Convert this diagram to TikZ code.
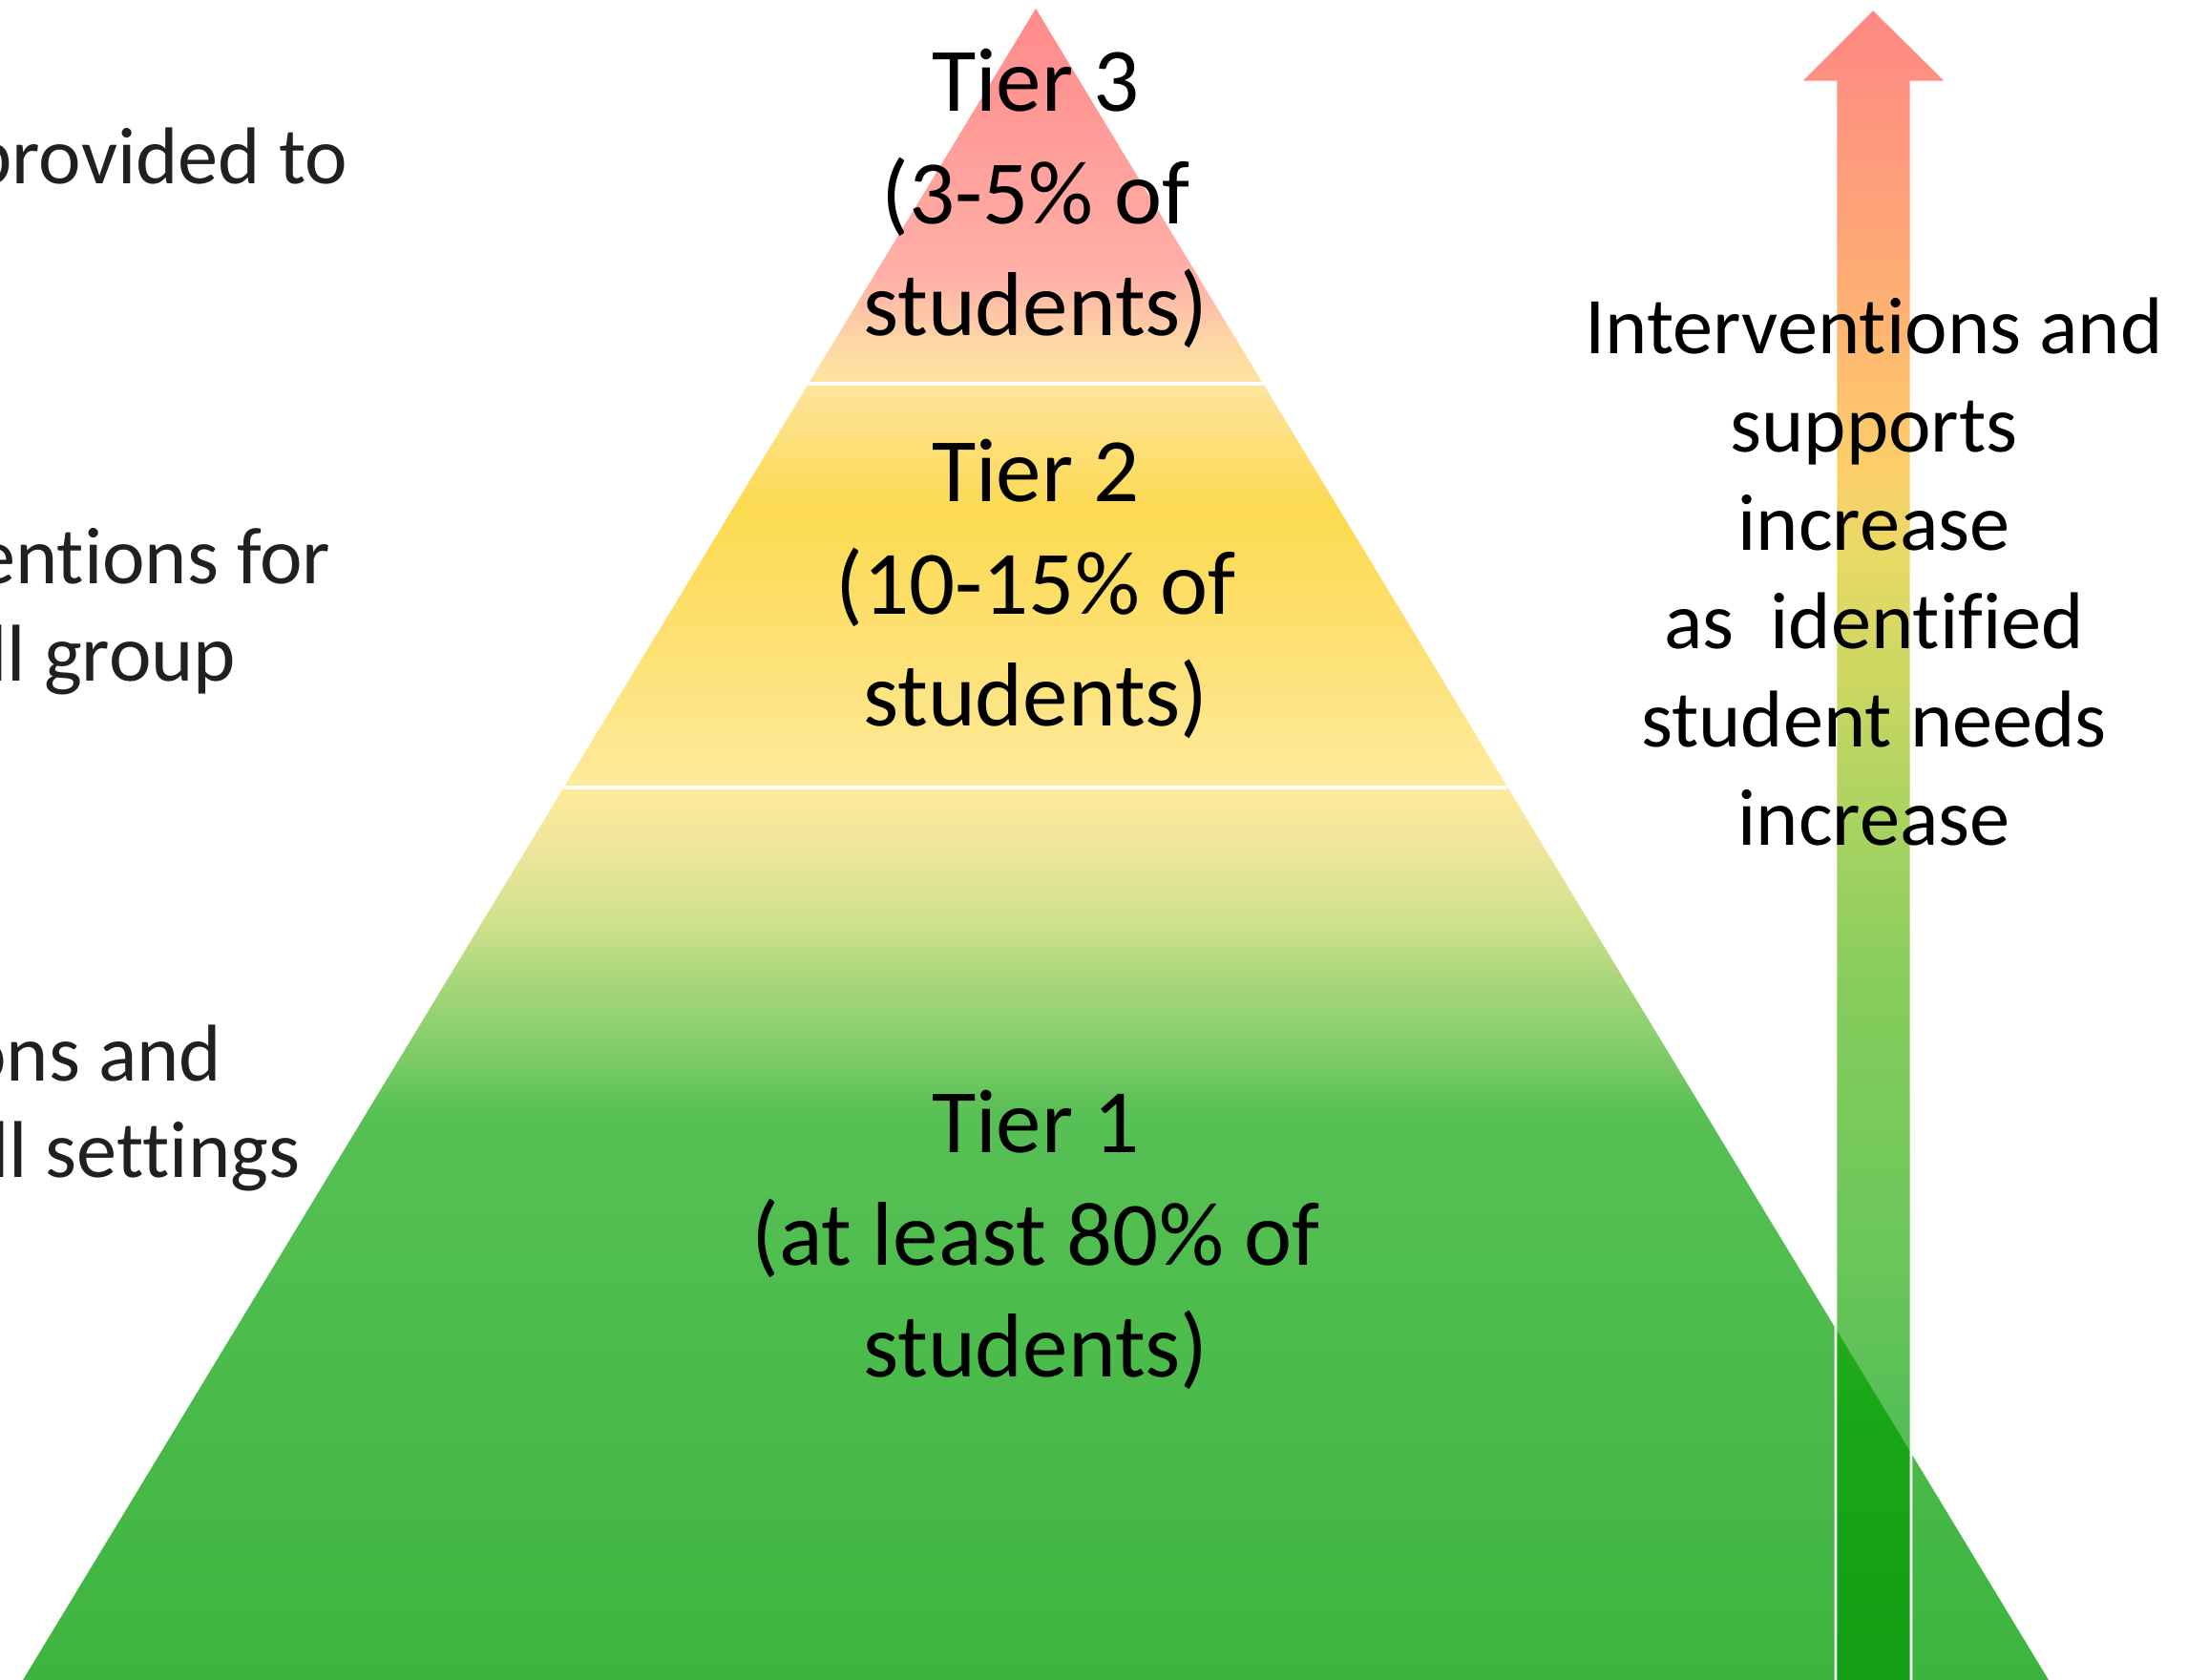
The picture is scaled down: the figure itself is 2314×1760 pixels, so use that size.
\documentclass[tikz,border=0pt]{standalone}
\usepackage{fontspec}
\setmainfont{Carlito}[Ligatures=NoCommon]
\usetikzlibrary{positioning}

\definecolor{sidegray}{HTML}{231F20}
\pgfdeclareverticalshading{pyramidshade}{100bp}{
  rgb(0bp)=(0.243,0.706,0.243);
  rgb(25bp)=(0.243,0.706,0.243);
  rgb(35.3bp)=(0.298,0.737,0.298);
  rgb(42bp)=(0.345,0.753,0.337);
  rgb(43.7bp)=(0.494,0.800,0.408);
  rgb(45.8bp)=(0.651,0.839,0.478);
  rgb(47.8bp)=(0.824,0.882,0.549);
  rgb(50bp)=(0.941,0.902,0.608);
  rgb(51.7bp)=(0.996,0.918,0.608);
  rgb(56.3bp)=(0.992,0.878,0.44);
  rgb(60bp)=(0.988,0.855,0.314);
  rgb(63.8bp)=(0.996,0.894,0.62);
  rgb(65bp)=(0.996,0.843,0.647);
  rgb(67bp)=(1,0.69,0.659);
  rgb(75bp)=(1,0.541,0.541);
  rgb(100bp)=(1,0.541,0.541)}
\pgfdeclareverticalshading{arrowshade}{100bp}{
  rgb(0bp)=(0,0.57,0);
  rgb(25bp)=(0,0.57,0);
  rgb(33.1bp)=(0,0.62,0);
  rgb(37.3bp)=(0.11,0.659,0.012);
  rgb(45.8bp)=(0.282,0.702,0.035);
  rgb(50bp)=(0.459,0.733,0.059);
  rgb(54.2bp)=(0.659,0.757,0.059);
  rgb(58.4bp)=(0.855,0.78,0.086);
  rgb(61.4bp)=(0.988,0.71,0.11);
  rgb(66.8bp)=(0.988,0.51,0.173);
  rgb(75bp)=(1,0.282,0.271);
  rgb(100bp)=(1,0.282,0.271)}

\begin{document}
\begin{tikzpicture}[x=0.01cm, y=-0.01cm,
            tiertext/.style={align=center, inner sep=0pt, text=black, font=\fontsize{27}{33.3}\selectfont},
            needtext/.style={align=center, inner sep=0pt, text=black, font=\fontsize{24}{29.3}\selectfont},
            sidetext/.style={anchor=base east, inner sep=0pt, text=sidegray, font=\fontsize{24}{29.3}\selectfont},
            divider/.style={white, line width=1pt},
            ]
            \useasboundingbox (0,0) rectangle (2314,1760);
            \clip (0,0) rectangle (2314,1760);

            %Pyramid
            \shade[shading=pyramidshade] (1085,9) -- (2146,1760) -- (24,1760) -- cycle;
            \draw[divider] (847,402) -- (1323,402);
            \draw[divider] (591,825) -- (1579,825);

            %Arrow
            \shade[shading=arrowshade, fill opacity=0.66, draw=white, line width=0.8pt]
                (1962,9) -- (2040,86) -- (2002,86) -- (2002,1762) -- (1923,1762) -- (1923,86) -- (1885,86) -- cycle;

            %Tier labels
            \node[tiertext] (tierthree) at (1085,208)  {Tier 3\\(3-5\% of\\students)};
            \node[tiertext] (tiertwo)   at (1085,617)  {Tier 2\\(10-15\% of\\students)};
            \node[tiertext] (tierone)   at (1085,1299) {Tier 1\\(at least 80\% of\\students)};

            %Arrow label
            \node[needtext] (needs) at (1963,599) {Interventions and\\supports\\increase\\as~~identified\\student needs\\increase};

            %Left labels
            \node[sidetext] (provided) at (365,192)  {provided to};
            \node[sidetext] (entions)  at (347,611)  {entions for};
            \node[sidetext] (group)    at (248,713)  {ll group};
            \node[sidetext] (onsand)   at (233,1132) {ons and};
            \node[sidetext] (settings) at (315,1233) {ll settings};

        \end{tikzpicture}
\end{document}
